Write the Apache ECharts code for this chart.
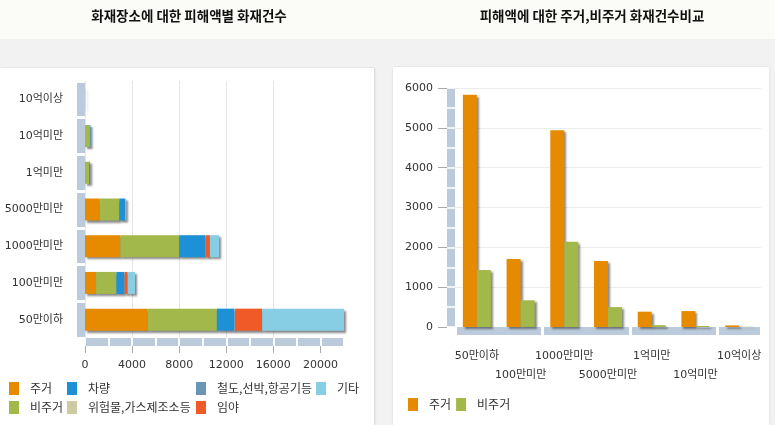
<!DOCTYPE html>
<html>
<head>
<meta charset="utf-8">
<script src="https://cdn.jsdelivr.net/npm/echarts@6/dist/echarts.min.js"></script>
<style>
  html,body{margin:0;padding:0;}
  body{width:775px;height:425px;position:relative;background:#f2f2f2;overflow:hidden;}
  #hdr{position:absolute;left:0;top:0;width:775px;height:39px;background:#fbfbf8;}
  #pl{position:absolute;left:0;top:68px;width:374px;height:357px;background:#fff;box-shadow:1px 0 2px rgba(0,0,0,0.12);}
  #pr{position:absolute;left:393px;top:67px;width:376px;height:358px;background:#fff;box-shadow:0 0 2px rgba(0,0,0,0.12);}
  #c1{position:absolute;left:0;top:0;width:385px;height:425px;}
  #c2{position:absolute;left:385px;top:0;width:390px;height:425px;}
</style>
</head>
<body>
<div id="hdr"></div><div id="pl"></div><div id="pr"></div>
<div id="c1"></div><div id="c2"></div>
<script>
// ---- data ----
const categories = ['50만이하','100만미만','1000만미만','5000만미만','1억미만','10억미만','10억이상'];
// left chart: fire counts by place (stacked)
const placeNames = ['주거','비주거','차량','위험물,가스제조소등','철도,선박,항공기등','임야','기타'];
const housing    = [5330, 940, 3010, 1260,   0,   0,  0];
const nonHousing = [5870,1730, 4990, 1650, 370, 420,  0];
const vehicle    = [1500, 680, 2210,  490,  60,  40,  0];
const hazardous  = [  30,  10,   20,   10,   0,   0,  0];
const transport  = [  20,  10,   10,    0,   0,   0,  0];
const forest     = [2300, 260,  370,   20,   0,   0,  0];
const other      = [6980, 620,  770,   60,  10,  10, 20];
const xTicksLeft = [0, 4000, 8000, 12000, 16000, 20000];
// right chart: housing vs non-housing
const cmpHousing    = [5830, 1710, 4940, 1660, 385, 400, 40];
const cmpNonHousing = [1430,  670, 2140,  500,  45,  25,  5];
const yTicksRight = [0, 1000, 2000, 3000, 4000, 5000, 6000];

// ---- styles ----
const colors = ['#e68a00','#a3b84a','#1e90d6','#cccba3','#6a95b5','#f05a28','#87cee4'];
const band = '#bccbdb';
const FONT = "'DejaVu Sans','Noto Sans CJK KR',sans-serif";
const KFONT = "'Noto Sans CJK KR','DejaVu Sans',sans-serif";
const shadow = {shadowColor:'rgba(40,40,40,0.55)', shadowBlur:2, shadowOffsetX:2, shadowOffsetY:2};
const plain = v => String(v);
const bandLine = {show:true, onZero:false, lineStyle:{color:band, width:8, cap:'butt'}};
const noLine = {show:false, onZero:false};

// ---- left chart ----
const c1 = echarts.init(document.getElementById('c1'), null, {renderer:'canvas'});
const placeData = [housing, nonHousing, vehicle, hazardous, transport, forest, other];
const legendPos = {
  '주거':[9,382], '차량':[67,382], '철도,선박,항공기등':[196,382], '기타':[316,382],
  '비주거':[9,401], '위험물,가스제조소등':[67,401], '임야':[196,401]
};
const legends1 = placeNames.map(n => ({
  data:[n], left:legendPos[n][0], top:legendPos[n][1], padding:0,
  icon:'rect', itemWidth:10, itemHeight:13,
  textStyle:{fontSize:12, color:'#333', fontFamily:KFONT, padding:[0,0,0,6]}
}));
c1.setOption({
  animation:false,
  title:{text:'화재장소에 대한 피해액별 화재건수', left:184, textAlign:'center', top:4,
    textStyle:{fontSize:13.5, fontWeight:'bold', color:'#111', fontFamily:KFONT}},
  legend: legends1,
  grid:{left:85, top:81, width:259, height:257},
  yAxis:[
    {type:'category', data:categories, offset:4, position:'left',
      axisLine:bandLine, axisTick:{show:false},
      axisLabel:{margin:18, fontSize:11, color:'#333', fontFamily:FONT}},
    {type:'category', data:categories, offset:0, position:'left',
      axisLine:noLine, axisLabel:{show:false},
      axisTick:{show:true, length:8, lineStyle:{color:'#fff', width:3}}}
  ],
  xAxis:[
    {type:'value', min:0, max:22000, position:'bottom', offset:8,
      axisLine:noLine,
      axisTick:{show:true, length:7, customValues:xTicksLeft, lineStyle:{color:'#aaa'}},
      axisLabel:{margin:14, fontSize:11, color:'#333', fontFamily:FONT, customValues:xTicksLeft, formatter:plain},
      splitLine:{show:true, showMaxLine:false, lineStyle:{color:'#e6e6e6'}}},
    {type:'value', min:0, max:22000, position:'bottom', offset:4,
      axisLine:bandLine,
      axisTick:{show:false}, axisLabel:{show:false}, splitLine:{show:false}},
    {type:'value', min:0, max:22000, interval:2000, position:'bottom', offset:0,
      axisLine:noLine, axisLabel:{show:false}, splitLine:{show:false},
      axisTick:{show:true, length:8, lineStyle:{color:'#fff', width:2}}}
  ],
  series: placeNames.map((n,i) => ({
    name:n, type:'bar', stack:'place', xAxisIndex:0, yAxisIndex:0,
    barWidth:22, data:placeData[i],
    itemStyle:Object.assign({color:colors[i]}, shadow)
  }))
});

// ---- right chart ----
const c2 = echarts.init(document.getElementById('c2'), null, {renderer:'canvas'});
c2.setOption({
  animation:false,
  title:{text:'피해액에 대한 주거,비주거 화재건수비교', left:202, textAlign:'center', top:4,
    textStyle:{fontSize:13.5, fontWeight:'bold', color:'#111', fontFamily:KFONT}},
  legend:{data:['주거','비주거'], left:23, top:398, padding:0, itemGap:5,
    icon:'rect', itemWidth:10, itemHeight:13,
    textStyle:{fontSize:12, color:'#333', fontFamily:KFONT, padding:[0,0,0,6]}},
  grid:{left:70, top:88, width:306, height:239},
  yAxis:[
    {type:'value', min:0, max:6000, interval:1000, offset:8, position:'left',
      axisLine:noLine,
      axisTick:{show:true, length:9, customValues:yTicksRight, lineStyle:{color:'#aaa'}},
      axisLabel:{margin:14, fontSize:11, color:'#333', fontFamily:FONT, customValues:yTicksRight, formatter:plain},
      splitLine:{show:true, lineStyle:{color:'#ececec'}}},
    {type:'value', min:0, max:6000, offset:4, position:'left',
      axisLine:bandLine,
      axisTick:{show:false}, axisLabel:{show:false}, splitLine:{show:false}},
    {type:'value', min:0, max:6000, interval:500, offset:0, position:'left',
      axisLine:noLine, axisLabel:{show:false}, splitLine:{show:false},
      axisTick:{show:true, length:8, lineStyle:{color:'#fff', width:1.5}}}
  ],
  xAxis:[
    {type:'category', data:categories, offset:4, position:'bottom',
      axisLine:bandLine, axisTick:{show:false},
      axisLabel:{interval:0, hideOverlap:false, margin:16, fontSize:11, color:'#333',
        fontFamily:FONT, lineHeight:18.5, verticalAlign:'top',
        formatter:(v,i)=> i % 2 ? '\n' + v : v}},
    {type:'category', data:categories, offset:0, position:'bottom',
      axisLine:noLine, axisLabel:{show:false},
      axisTick:{show:true, length:8, lineStyle:{color:'#fff', width:3}}}
  ],
  series:[
    {name:'주거', type:'bar', data:cmpHousing, barWidth:14, barGap:'0%',
      itemStyle:Object.assign({color:colors[0]}, shadow)},
    {name:'비주거', type:'bar', data:cmpNonHousing, barWidth:14, barGap:'0%',
      itemStyle:Object.assign({color:colors[1]}, shadow)}
  ]
});
</script>
</body>
</html>
